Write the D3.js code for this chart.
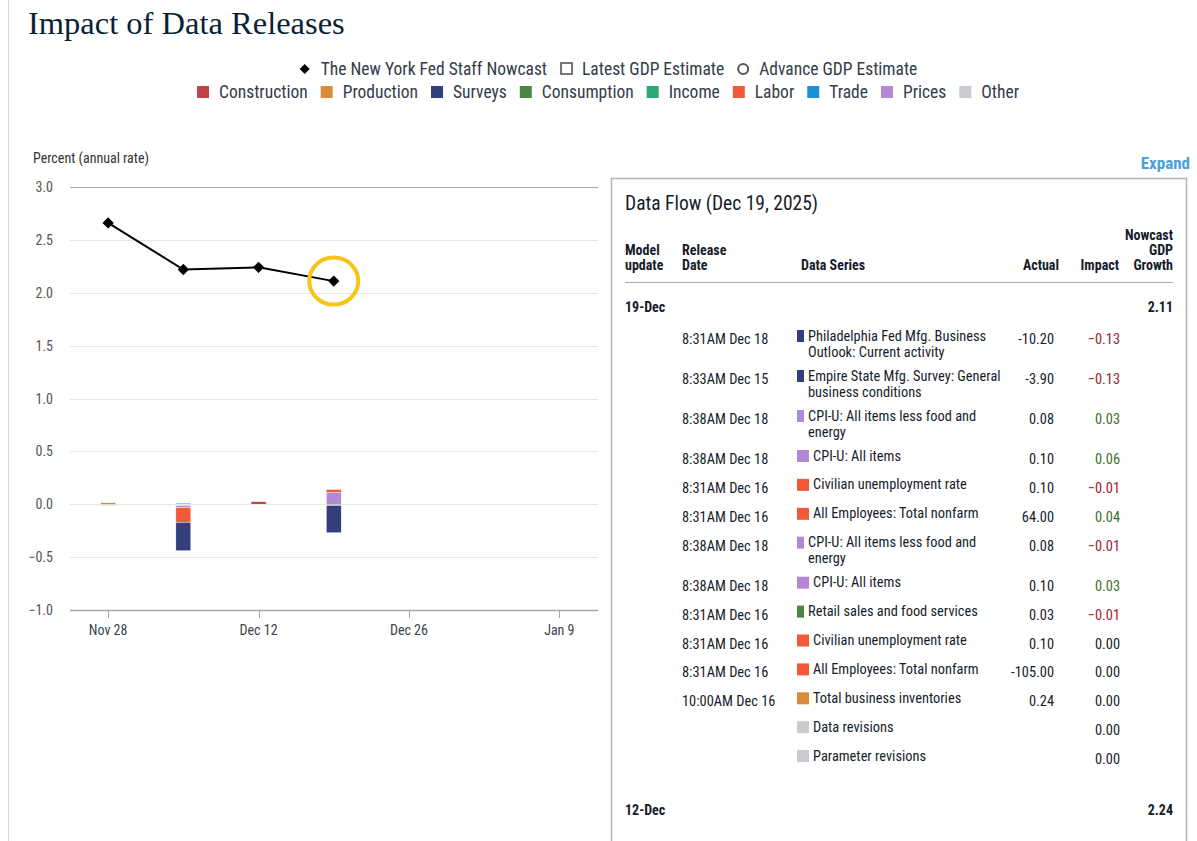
<!DOCTYPE html>
<html>
<head>
<meta charset="utf-8">
<script src="https://cdn.jsdelivr.net/npm/d3@7"></script>
<style>
  body { margin: 0; background: #fff; }
  svg { display: block; }
</style>
</head>
<body>
<div id="chart"></div>
<script>
// ---- data ----
var categories = ["Construction", "Production", "Surveys", "Consumption", "Income", "Labor", "Trade", "Prices", "Other"];
var categoryColors = ["#bf4548", "#d98b3b", "#323f7c", "#4d8544", "#2fa877", "#f2593a", "#1b90d8", "#b588d6", "#cbcbcf"];

var updateDates = ["2025-11-28", "2025-12-05", "2025-12-12", "2025-12-19"];
var nowcastValues = [2.66, 2.22, 2.24, 2.11];

// impact per category (same order as categories), one array per update date
var impactNov28 = [0, 0.015, 0, -0.01, 0, 0, 0, 0, 0];
var impactDec05 = [0, 0, -0.27, 0, 0, -0.14, 0.01, -0.02, -0.01];
var impactDec12 = [0.025, 0, 0, 0, 0, 0, -0.005, 0, 0];
var impactDec19 = [0, 0, -0.26, -0.01, 0, 0.03, 0, 0.11, 0];
var impacts = [impactNov28, impactDec05, impactDec12, impactDec19];

var yTicks = [3.0, 2.5, 2.0, 1.5, 1.0, 0.5, 0.0, -0.5, -1.0];
var xTicks = ["2025-11-28", "2025-12-12", "2025-12-26", "2026-01-09"];

// data flow table
var flowTitle = "Data Flow (Dec 19, 2025)";
var releaseTimes = ["8:31AM Dec 18", "8:33AM Dec 15", "8:38AM Dec 18", "8:38AM Dec 18", "8:31AM Dec 16", "8:31AM Dec 16",
  "8:38AM Dec 18", "8:38AM Dec 18", "8:31AM Dec 16", "8:31AM Dec 16", "8:31AM Dec 16", "10:00AM Dec 16", "", ""];
var seriesNames = [
  ["Philadelphia Fed Mfg. Business", "Outlook: Current activity"],
  ["Empire State Mfg. Survey: General", "business conditions"],
  ["CPI-U: All items less food and", "energy"],
  ["CPI-U: All items"],
  ["Civilian unemployment rate"],
  ["All Employees: Total nonfarm"],
  ["CPI-U: All items less food and", "energy"],
  ["CPI-U: All items"],
  ["Retail sales and food services"],
  ["Civilian unemployment rate"],
  ["All Employees: Total nonfarm"],
  ["Total business inventories"],
  ["Data revisions"],
  ["Parameter revisions"]
];
var seriesCategory = ["Surveys", "Surveys", "Prices", "Prices", "Labor", "Labor", "Prices", "Prices", "Consumption",
  "Labor", "Labor", "Production", "Other", "Other"];
var actualValues = ["-10.20", "-3.90", "0.08", "0.10", "0.10", "64.00", "0.08", "0.10", "0.03", "0.10", "-105.00", "0.24", "", ""];
var impactValues = [-0.13, -0.13, 0.03, 0.06, -0.01, 0.04, -0.01, 0.03, -0.01, 0.00, 0.00, 0.00, 0.00, 0.00];
var modelUpdates = ["19-Dec", "12-Dec"];
var modelNowcasts = ["2.11", "2.24"];

// ---- setup ----
var W = 1197, H = 841;
var FONT = '"Roboto Condensed", "Liberation Sans Narrow", "DejaVu Sans Condensed", "Open Sans Condensed", Roboto, sans-serif';
var parse = d3.utcParse("%Y-%m-%d");
var DAY = 864e5;

var svg = d3.select("#chart").append("svg")
  .attr("width", W).attr("height", H)
  .style("font-family", FONT);

// left page border
svg.append("line").attr("x1", 8.5).attr("x2", 8.5).attr("y1", 0).attr("y2", H)
  .attr("stroke", "#cfd6de");

// Title
svg.append("text").attr("x", 28).attr("y", 34)
  .style("font-family", '"Liberation Serif", "DejaVu Serif", serif')
  .style("font-size", "32.5px").attr("fill", "#0d1f36")
  .text("Impact of Data Releases");

// ---- legend ----
function legendRow(items, y, cx) {
  var g = svg.append("g");
  var x = 0;
  items.forEach(function(it) {
    var ig = g.append("g").attr("transform", "translate(" + x + ",0)");
    if (it.type == "diamond") {
      ig.append("path").attr("d", d3.symbol(d3.symbolSquare, 50)())
        .attr("transform", "translate(6," + (y - 6) + ") rotate(45)").attr("fill", "#000");
    } else if (it.type == "hollowSquare") {
      ig.append("rect").attr("x", 1).attr("y", y - 12).attr("width", 11).attr("height", 11)
        .attr("fill", "none").attr("stroke", "#555").attr("stroke-width", 1.6);
    } else if (it.type == "circle") {
      ig.append("circle").attr("cx", 6).attr("cy", y - 6).attr("r", 5)
        .attr("fill", "none").attr("stroke", "#555").attr("stroke-width", 2);
    } else {
      ig.append("rect").attr("x", 0).attr("y", y - 12).attr("width", 12).attr("height", 12)
        .attr("fill", it.color);
    }
    var t = ig.append("text").attr("x", 22).attr("y", y)
      .style("font-size", "17.5px").attr("fill", "#343c4a").text(it.label);
    x += 22 + t.node().getComputedTextLength() + 13;
  });
  var w = x - 13;
  g.attr("transform", "translate(" + (cx - w / 2) + ",0)");
}
legendRow([
  { type: "diamond", label: "The New York Fed Staff Nowcast" },
  { type: "hollowSquare", label: "Latest GDP Estimate" },
  { type: "circle", label: "Advance GDP Estimate" }
], 75, 608);
legendRow(categories.map(function(c, i) { return { type: "box", label: c, color: categoryColors[i] }; }), 98, 608);

// ---- chart ----
var x = d3.scaleUtc()
  .domain([new Date(+parse("2025-11-28") - 3.55 * DAY), new Date(+parse("2026-01-09") + 3.6 * DAY)])
  .range([70, 598]);
var y = d3.scaleLinear().domain([-1, 3]).range([610, 187]);

svg.append("text").attr("x", 33).attr("y", 163)
  .style("font-size", "14px").attr("fill", "#333").text("Percent (annual rate)");

var grid = svg.append("g");
grid.selectAll("line").data(yTicks).join("line")
  .attr("x1", 70).attr("x2", 598)
  .attr("y1", function(d) { return Math.round(y(d)) + 0.5; })
  .attr("y2", function(d) { return Math.round(y(d)) + 0.5; })
  .attr("stroke", function(d) { return (d == 3 || d == -1) ? "#a8a8a8" : "#e6e6e6"; })
  .attr("stroke-width", function(d) { return d == -1 ? 1.5 : 1; });
grid.selectAll("text").data(yTicks).join("text")
  .attr("x", 53).attr("y", function(d) { return y(d) + 5; })
  .attr("text-anchor", "end").style("font-size", "14px").attr("fill", "#555")
  .text(d3.format(".1f"));

var xAxis = svg.append("g");
xAxis.selectAll("line").data(xTicks).join("line")
  .attr("x1", function(d) { return Math.round(x(parse(d))) + 0.5; })
  .attr("x2", function(d) { return Math.round(x(parse(d))) + 0.5; })
  .attr("y1", 611).attr("y2", 618).attr("stroke", "#a8a8a8");
xAxis.selectAll("text").data(xTicks).join("text")
  .attr("x", function(d) { return x(parse(d)); }).attr("y", 635)
  .attr("text-anchor", "middle").style("font-size", "14px").attr("fill", "#3b4350")
  .text(function(d) { return d3.utcFormat("%b %-d")(parse(d)); });

// stacked impact bars (last category nearest zero, as in the source chart)
var barW = 15;
var bars = svg.append("g");
impacts.forEach(function(vals, di) {
  var cx = x(parse(updateDates[di]));
  var pos = 0, neg = 0;
  for (var i = categories.length - 1; i >= 0; i--) {
    var v = vals[i];
    if (!v) continue;
    var y0, y1;
    if (v > 0) { y0 = pos; y1 = pos + v; pos = y1; }
    else { y0 = neg; y1 = neg + v; neg = y1; }
    bars.append("rect")
      .attr("x", cx - barW / 2).attr("width", barW)
      .attr("y", y(Math.max(y0, y1))).attr("height", Math.abs(y(y0) - y(y1)))
      .attr("fill", categoryColors[i])
      .attr("stroke", "#fff").attr("stroke-width", 0.5);
  }
});

// nowcast line
var pts = updateDates.map(function(d, i) { return [x(parse(d)), y(nowcastValues[i])]; });
svg.append("path").attr("d", d3.line()(pts))
  .attr("fill", "none").attr("stroke", "#000").attr("stroke-width", 2);
svg.append("g").selectAll("path").data(pts).join("path")
  .attr("d", d3.symbol(d3.symbolSquare, 64)())
  .attr("transform", function(p) { return "translate(" + p[0] + "," + p[1] + ") rotate(45)"; })
  .attr("fill", "#000");

// highlight ring around latest nowcast
var last = pts[pts.length - 1];
svg.append("ellipse").attr("cx", last[0]).attr("cy", last[1]).attr("rx", 24.5).attr("ry", 23.5)
  .attr("fill", "none").attr("stroke", "#f6c517").attr("stroke-width", 4);

// ---- data flow panel ----
svg.append("text").attr("x", 1190).attr("y", 169).attr("text-anchor", "end")
  .style("font-size", "17px").style("font-weight", "bold").attr("fill", "#4aa0d9").text("Expand");

svg.append("rect").attr("x", 611.5).attr("y", 178.5).attr("width", 575).attr("height", 700)
  .attr("fill", "#fff").attr("stroke", "#b3b3b3").attr("stroke-width", 1.5);

var tbl = svg.append("g").attr("fill", "#161c2a");
tbl.append("text").attr("x", 625).attr("y", 210).style("font-size", "19.5px").text(flowTitle);

function hdr(lines, xx, anchor) {
  var base = 270 - (lines.length - 1) * 15;
  lines.forEach(function(l, i) {
    tbl.append("text").attr("x", xx).attr("y", base + i * 15).attr("text-anchor", anchor)
      .style("font-size", "14px").style("font-weight", "bold").text(l);
  });
}
hdr(["Model", "update"], 625, "start");
hdr(["Release", "Date"], 682, "start");
hdr(["Data Series"], 801, "start");
hdr(["Actual"], 1059, "end");
hdr(["Impact"], 1119, "end");
hdr(["Nowcast", "GDP", "Growth"], 1173, "end");
tbl.append("line").attr("x1", 625).attr("x2", 1173).attr("y1", 282.5).attr("y2", 282.5)
  .attr("stroke", "#aaa");

tbl.append("text").attr("x", 625).attr("y", 312).style("font-size", "14px").style("font-weight", "bold").text(modelUpdates[0]);
tbl.append("text").attr("x", 1173).attr("y", 312).attr("text-anchor", "end")
  .style("font-size", "14px").style("font-weight", "bold").text(modelNowcasts[0]);

var FS = "14.4px";
var rowY = 339;
seriesNames.forEach(function(lines, i) {
  var col = categoryColors[categories.indexOf(seriesCategory[i])];
  tbl.append("text").attr("x", 682).attr("y", rowY + 5).style("font-size", FS).text(releaseTimes[i]);
  var sqW = lines[0].length > 29 ? 7 : 12;
  tbl.append("rect").attr("x", 797).attr("y", rowY - 9).attr("width", sqW).attr("height", 12).attr("fill", col);
  lines.forEach(function(l, j) {
    tbl.append("text").attr("x", 797 + sqW + 4).attr("y", rowY + 1.5 + j * 16)
      .style("font-size", FS).text(l);
  });
  tbl.append("text").attr("x", 1054).attr("y", rowY + 5).attr("text-anchor", "end")
    .style("font-size", FS).text(actualValues[i]);
  var iv = impactValues[i];
  tbl.append("text").attr("x", 1120).attr("y", rowY + 5).attr("text-anchor", "end")
    .style("font-size", FS)
    .attr("fill", iv < 0 ? "#a2212f" : iv > 0 ? "#3b7029" : "#161c2a")
    .text(d3.format(".2f")(iv));
  rowY += lines.length > 1 ? 40 : 28.9;
});

var nextY = rowY + 27;
tbl.append("text").attr("x", 625).attr("y", nextY).style("font-size", "14px").style("font-weight", "bold").text(modelUpdates[1]);
tbl.append("text").attr("x", 1173).attr("y", nextY).attr("text-anchor", "end")
  .style("font-size", "14px").style("font-weight", "bold").text(modelNowcasts[1]);
</script>
</body>
</html>
